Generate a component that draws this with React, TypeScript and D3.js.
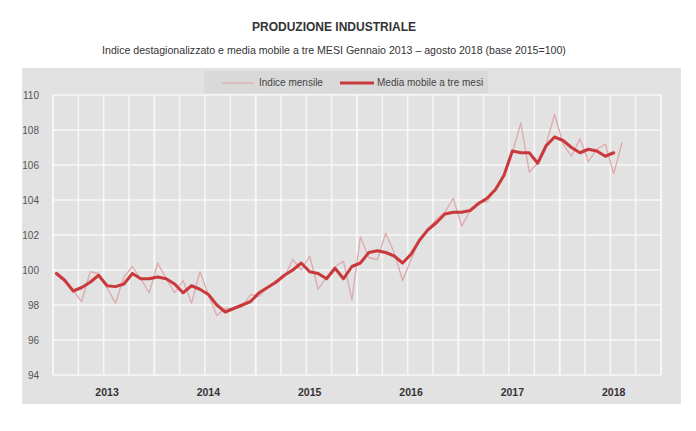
import React from "react";
import * as d3 from "d3";

const years = ["2013", "2014", "2015", "2016", "2017", "2018"];
const yTicks = [94, 96, 98, 100, 102, 104, 106, 108, 110];

// Indice mensile, Jan 2013 - Aug 2018
const indiceMensile = [
  99.9, 99.5, 98.8, 98.2, 99.9, 99.8, 99.0, 98.1, 99.6, 100.2, 99.5, 98.7,
  100.4, 99.5, 98.7, 99.4, 98.1, 99.9, 98.6, 97.4, 97.8, 97.8, 97.9, 98.6,
  98.5, 99.0, 99.4, 99.6, 100.6, 100.0, 100.8, 98.9, 99.6, 100.2, 100.5, 98.3,
  101.9, 100.7, 100.6, 102.1, 101.0, 99.4, 100.6, 101.7, 102.3, 102.9, 103.3, 104.1,
  102.5, 103.4, 103.9, 103.9, 104.6, 105.5, 106.7, 108.4, 105.6, 106.1, 107.2, 108.9,
  107.2, 106.5, 107.5, 106.2, 106.9, 107.2, 105.5, 107.3,
];

// Media mobile a tre mesi, Jan 2013 - Jul 2018
const mediaMobile = [
  99.8, 99.4, 98.8, 99.0, 99.3, 99.7, 99.1, 99.05, 99.2, 99.8, 99.5, 99.5,
  99.6, 99.5, 99.2, 98.7, 99.1, 98.9, 98.6, 98.0, 97.6, 97.8, 98.0, 98.2,
  98.7, 99.0, 99.3, 99.7, 100.0, 100.4, 99.9, 99.8, 99.5, 100.1, 99.5, 100.2,
  100.4, 101.0, 101.1, 101.0, 100.8, 100.4, 100.9, 101.7, 102.3, 102.7, 103.2, 103.3,
  103.3, 103.4, 103.8, 104.1, 104.6, 105.4, 106.8, 106.7, 106.7, 106.1, 107.1, 107.6,
  107.4, 107.0, 106.7, 106.9, 106.8, 106.5, 106.7,
];

const legendLabels = ["Indice mensile", "Media mobile a tre mesi"];

const W = 696;
const H = 431;
const plot = { left: 53, right: 661, top: 95, bottom: 375 };
const FONT = '"Liberation Sans Narrow", "Liberation Sans", Arial, sans-serif';

export default function App() {
  const x = d3.scaleLinear().domain([-0.4, 71.6]).range([plot.left, plot.right]);
  const y = d3.scaleLinear().domain([94, 110]).range([plot.bottom, plot.top]);

  const line = d3
    .line<number>()
    .x((_, i) => x(i))
    .y((d) => y(d));

  const quarterLines = d3.range(0, 25).map((k) => -0.4 + 3 * k);

  return (
    <svg
      width={W}
      height={H}
      style={{ position: "absolute", left: 0, top: 0, background: "#fff" }}
      fontFamily={FONT}
    >
      <text
        x={334}
        y={31}
        textAnchor="middle"
        fontSize={12}
        fontWeight="bold"
        fill="#333"
        fontFamily='"Liberation Sans", Arial, sans-serif'
      >
        PRODUZIONE INDUSTRIALE
      </text>
      <text
        x={334}
        y={54}
        textAnchor="middle"
        fontSize={10.6}
        fill="#333"
        fontFamily='"Liberation Sans", Arial, sans-serif'
      >
        Indice destagionalizzato e media mobile a tre MESI Gennaio 2013 – agosto 2018 (base 2015=100)
      </text>

      {/* panel */}
      <rect x={22} y={68} width={659} height={336} fill="#e2e2e2" />
      {/* legend box */}
      <rect x={204} y={71} width={284} height={22} fill="#d9d9d9" />
      <line x1={222} x2={254} y1={83} y2={83} stroke="#e0aeb0" strokeWidth={1.3} />
      <text x={259} y={86} fontSize={10} fill="#444">
        {legendLabels[0]}
      </text>
      <line x1={340} x2={374} y1={83} y2={83} stroke="#c9393c" strokeWidth={3} />
      <text x={377} y={86} fontSize={10} fill="#444">
        {legendLabels[1]}
      </text>

      {/* grid */}
      {yTicks.map((t) => (
        <line
          key={"h" + t}
          x1={plot.left}
          x2={plot.right}
          y1={y(t)}
          y2={y(t)}
          stroke="#f7f7f7"
          strokeWidth={1.5}
        />
      ))}
      {quarterLines.map((q, k) => (
        <line
          key={"v" + k}
          x1={x(q)}
          x2={x(q)}
          y1={plot.top}
          y2={plot.bottom}
          stroke="#f7f7f7"
          strokeWidth={k % 4 === 0 ? 2 : 1.5}
        />
      ))}

      {/* y labels */}
      {yTicks.map((t) => (
        <text
          key={"yl" + t}
          x={39}
          y={y(t) + 3.5}
          textAnchor="end"
          fontSize={10}
          fill="#555"
        >
          {t}
        </text>
      ))}

      {/* x labels */}
      {years.map((yr, k) => (
        <text
          key={yr}
          x={x(12 * k + 6)}
          y={396}
          textAnchor="middle"
          fontSize={10.5}
          fontWeight="bold"
          fill="#333"
        >
          {yr}
        </text>
      ))}

      {/* series */}
      <path
        d={line(indiceMensile) || ""}
        fill="none"
        stroke="#dfa9ac"
        strokeWidth={1.3}
        strokeLinejoin="round"
      />
      <path
        d={line(mediaMobile) || ""}
        fill="none"
        stroke="#c9393c"
        strokeWidth={3}
        strokeLinejoin="round"
        strokeLinecap="round"
      />
    </svg>
  );
}
